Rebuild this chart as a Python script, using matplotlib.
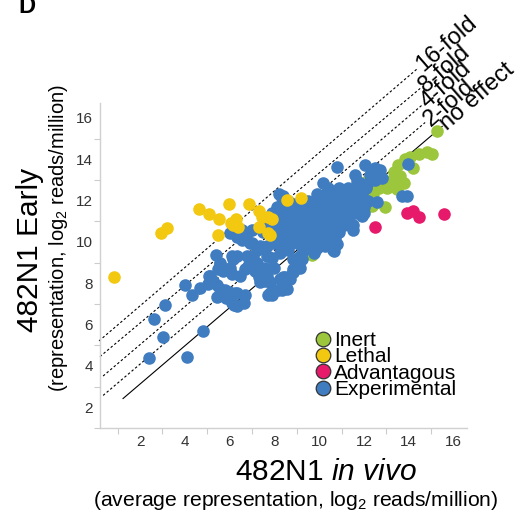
import matplotlib
matplotlib.use("Agg")
import matplotlib.pyplot as plt
from matplotlib.lines import Line2D

plt.rcParams['font.family'] = ['Liberation Sans', 'DejaVu Sans']
plt.rcParams['mathtext.fontset'] = 'custom'
plt.rcParams['mathtext.rm'] = 'Liberation Sans'
plt.rcParams['mathtext.it'] = 'Liberation Sans:italic'

# reference lines (fold change), start/end
fold_labels = ['16-fold', '8-fold', '4-fold', '2-fold', 'no effect']
fold_x0 = [0.17, 0.21, 0.35, 0.35, 1.24]
fold_y0 = [5.21, 4.45, 3.51, 2.57, 2.42]
fold_x1 = [14.42, 14.51, 14.60, 14.73, 15.49]
fold_y1 = [18.42, 17.43, 16.63, 15.78, 15.59]

# Lethal
lethal_x = [0.84, 2.92, 3.19, 4.61, 5.10, 5.54, 5.99, 5.50, 6.17, 6.39, 6.28, 6.05, 6.88,
            7.29, 7.44, 7.73, 7.33, 7.73, 7.81, 7.88, 8.55, 9.18]
lethal_y = [8.29, 10.44, 10.68, 11.59, 11.36, 11.12, 11.83, 10.34, 10.81, 10.73, 11.12, 10.90, 11.83,
            11.52, 11.20, 11.20, 10.73, 10.41, 10.34, 11.12, 12.02, 12.14]

# Inert
inert_x = [15.26, 14.07, 14.44, 14.82, 15.03, 13.84, 14.21, 13.32, 13.62, 13.77, 13.47, 13.17,
           12.87, 12.65, 12.42, 12.35, 12.95, 13.02, 12.72, 12.42, 12.13, 13.54, 12.13, 12.50,
           12.28, 13.35, 9.67]
inert_y = [15.37, 14.11, 14.27, 14.35, 14.27, 14.03, 13.56, 13.40, 13.17, 12.85, 12.54, 12.93,
           12.93, 12.62, 12.30, 11.75, 11.67, 12.62, 13.24, 13.09, 12.77, 13.72, 12.93, 12.85,
           12.38, 12.95, 9.39]

# Advantagous
adv_x = [12.50, 13.92, 14.19, 14.44, 15.58]
adv_y = [10.73, 11.39, 11.52, 11.20, 11.33]

# Experimental
exp_x = [2.42, 4.09, 3.04, 2.63, 4.79, 3.12, 4.01, 4.31, 4.68, 5.10, 5.25, 5.43, 5.43, 5.58,
         5.80, 5.84, 6.10, 6.32, 6.62, 6.69, 6.20, 5.40, 5.58, 5.72, 5.50, 6.02, 6.17, 6.10,
         6.32, 6.47, 6.69, 6.77, 6.02, 6.32, 6.54, 6.77, 6.92, 7.21, 7.36, 7.06, 7.21, 7.14,
         7.29, 7.36, 7.66, 7.58, 7.73, 7.88, 8.33, 8.55, 8.40, 8.85, 9.15, 9.22, 8.33, 10.79,
         12.05, 10.19, 11.53, 10.64, 9.75,
         8.93, 8.55, 8.25, 7.96, 7.51, 6.99, 6.54, 6.99, 7.66, 7.96, 5.57, 6.10, 6.84, 7.66,
         7.21, 7.51, 7.81, 8.25, 8.85, 5.13, 5.05, 5.95, 6.25, 6.32, 7.81, 8.18,
         11.60, 12.42, 12.65, 12.80, 8.40, 9.22, 10.34, 11.08, 11.38, 11.83, 11.68, 11.90,
         10.26, 9.89, 9.15, 8.85, 8.25, 7.88, 7.96, 8.85, 8.70, 7.58, 8.25, 8.48, 12.50,
         13.95, 12.28, 12.50, 12.13, 11.83, 12.57, 11.98, 11.90, 13.69, 12.35, 12.72, 13.92,
         11.68, 11.83,
         10.4, 10.9, 11.3, 11.7, 12.1,
         8.2, 9.9, 10.3, 10.7, 11.1, 11.5, 11.9,
         8.6, 9.5, 9.8, 10.1, 10.5, 10.9, 11.3, 11.7, 12.2,
         8.1, 8.5, 8.9, 9.2, 9.6, 9.9, 10.3, 10.7, 11.0, 11.4, 11.8,
         7.9, 8.3, 8.7, 9.0, 9.4, 9.8, 10.1, 10.5, 10.8, 11.2, 11.6, 12.0,
         8.0, 8.4, 8.8, 9.1, 9.5, 9.9, 10.2, 10.6, 10.9, 11.3,
         7.6, 8.1, 8.5, 8.9, 9.3, 9.6, 10.0, 10.4, 10.7, 11.1, 11.5,
         7.8, 8.2, 8.6, 9.0, 9.4, 9.8, 10.1, 10.5, 10.9,
         8.0, 8.4, 8.8, 9.2, 9.5, 9.9, 10.3, 10.7,
         8.3, 8.7, 9.1, 9.5, 9.9, 10.4, 10.8,
         8.6, 9.3, 9.8, 10.6]
exp_y = [4.36, 4.44, 5.38, 6.28, 5.70, 6.95, 7.93, 7.43, 7.77, 8.37, 8.13, 7.90, 7.35, 7.74,
         7.66, 7.27, 7.03, 7.51, 7.03, 7.43, 6.95, 9.39, 9.00, 8.61, 8.69, 8.76, 9.16, 9.31,
         9.31, 8.37, 8.69, 9.31, 10.42, 10.26, 10.57, 10.42, 9.94, 9.63, 9.79, 9.31, 9.00, 8.61,
         8.29, 8.06, 8.37, 8.76, 7.43, 7.43, 7.66, 7.74, 8.29, 8.53, 8.76, 9.16, 12.15, 13.64,
         13.72, 12.85, 10.57, 9.55, 9.45,
         11.83, 11.52, 11.20, 10.81, 10.49, 10.57, 10.10, 9.94, 9.79, 9.94, 8.92, 8.45, 8.84, 9.31,
         8.53, 8.37, 8.06, 8.22, 8.69, 8.37, 7.98, 7.58, 7.51, 6.88, 7.51, 7.66,
         13.24, 13.48, 13.32, 13.08, 12.22, 11.43, 12.30, 12.14, 12.46, 12.61, 12.93, 11.27,
         9.78, 9.70, 9.31, 9.15, 9.47, 9.23, 8.76, 8.52, 8.21, 8.13, 7.74, 8.29, 13.56,
         13.77, 13.25, 13.01, 12.78, 12.46, 11.91, 11.68, 11.28, 12.23, 13.33, 13.48, 12.22,
         12.54, 12.85,
         12.6, 12.6, 12.6, 12.6, 12.6,
         12.3, 12.3, 12.3, 12.3, 12.3, 12.3, 12.3,
         12.0, 12.0, 12.0, 12.0, 12.0, 12.0, 12.0, 12.0, 12.0,
         11.7, 11.7, 11.7, 11.7, 11.7, 11.7, 11.7, 11.7, 11.7, 11.7, 11.7,
         11.4, 11.4, 11.4, 11.4, 11.4, 11.4, 11.4, 11.4, 11.4, 11.4, 11.4, 11.4,
         11.1, 11.1, 11.1, 11.1, 11.1, 11.1, 11.1, 11.1, 11.1, 11.1,
         10.8, 10.8, 10.8, 10.8, 10.8, 10.8, 10.8, 10.8, 10.8, 10.8, 10.8,
         10.5, 10.5, 10.5, 10.5, 10.5, 10.5, 10.5, 10.5, 10.5,
         10.2, 10.2, 10.2, 10.2, 10.2, 10.2, 10.2, 10.2,
         9.9, 9.9, 9.9, 9.9, 9.9, 9.9, 9.9,
         9.6, 9.6, 9.6, 9.6]

categories = ['Inert', 'Lethal', 'Advantagous', 'Experimental']
colors = {'Inert': '#9cc73c', 'Lethal': '#f2c811', 'Advantagous': '#e6196a', 'Experimental': '#3f7cc0'}

even_ticks = [2, 4, 6, 8, 10, 12, 14, 16]
odd_ticks = [1, 3, 5, 7, 9, 11, 13, 15]

fig = plt.figure(figsize=(5.18, 5.18), dpi=100)
ax = fig.add_axes([0.193, 0.174, 0.709, 0.627])

# fold lines
for i, lab in enumerate(fold_labels):
    ls = '-' if lab == 'no effect' else (0, (2.2, 2.0))
    ax.plot([fold_x0[i], fold_x1[i]], [fold_y0[i], fold_y1[i]], color='black',
            lw=0.8, ls=ls, clip_on=False, zorder=1)
    ax.annotate(lab, xy=(fold_x1[i], fold_y1[i]), xytext=(1, 0), textcoords='offset points',
                rotation=41, rotation_mode='anchor', ha='left', va='center',
                fontsize=17, annotation_clip=False)

s = 82
ax.scatter(inert_x, inert_y, s=s, color=colors['Inert'], lw=0, zorder=2)
ax.scatter(exp_x, exp_y, s=s, color=colors['Experimental'], lw=0, zorder=3)
ax.scatter(lethal_x, lethal_y, s=s, color=colors['Lethal'], lw=0, zorder=4)
ax.scatter(adv_x, adv_y, s=s, color=colors['Advantagous'], lw=0, zorder=4)

ax.set_xlim(0.21, 16.61)
ax.set_ylim(1.39, 16.72)

ax.set_xticks(even_ticks)
ax.set_yticks(even_ticks)
ax.set_xticks(odd_ticks, minor=True)
ax.set_yticks(odd_ticks, minor=True)
ax.tick_params(which='major', length=0, labelsize=11, labelcolor='#333333', pad=5)
ax.tick_params(which='minor', length=4, color='#cccccc', width=0.8)
for side in ['top', 'right']:
    ax.spines[side].set_visible(False)
for side in ['left', 'bottom']:
    ax.spines[side].set_color('#d0d0d0')
    ax.spines[side].set_linewidth(1.0)

handles = [Line2D([], [], marker='o', ls='', markersize=10.5, markerfacecolor=colors[c],
                  markeredgecolor='#333333', markeredgewidth=0.9) for c in categories]
ax.legend(handles, categories, loc='upper left', bbox_to_anchor=(0.611, 0.361),
          bbox_transform=fig.transFigure, frameon=False, fontsize=15, borderpad=0,
          handlelength=0.6, handletextpad=0.25, labelspacing=-0.13, borderaxespad=0)

fig.text(0.058, 0.517, '482N1 Early', rotation=90, fontsize=21.5, ha='center', va='center')
fig.text(0.112, 0.541, r'(representation, log$_2$ reads/million)', rotation=90,
         fontsize=14.5, ha='center', va='center')
fig.text(0.629, 0.089, r'482N1 $\it{in\ vivo}$', fontsize=21.5, ha='center', va='center')
fig.text(0.57, 0.033, r'(average representation, log$_2$ reads/million)', fontsize=15.2,
         ha='center', va='center')
fig.text(0.035, 1 - 13 / 518, 'D', fontsize=17, fontweight='bold', ha='left', va='baseline')

fig.savefig('out.png', dpi=100)
